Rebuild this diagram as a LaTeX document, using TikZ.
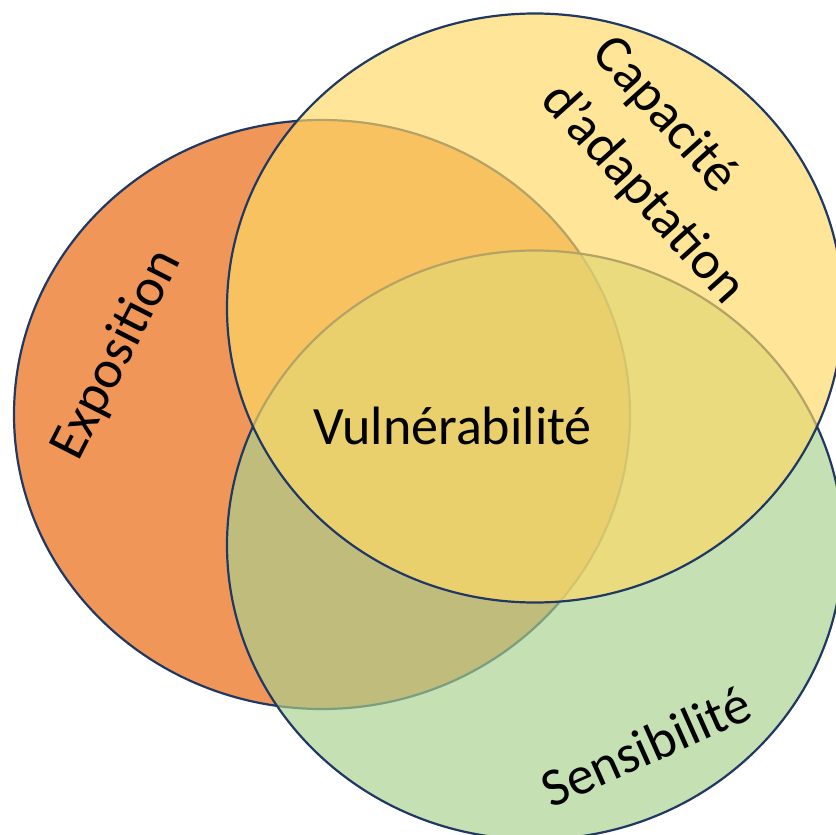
\documentclass[tikz,border=0pt]{standalone}
\usepackage{fontspec}
\setmainfont{Carlito}
\usetikzlibrary{shapes.geometric}
\definecolor{orangeF}{RGB}{239,150,88}
\definecolor{yellowF}{RGB}{255,217,102}
\definecolor{greenF}{RGB}{169,209,142}
\definecolor{navy}{RGB}{32,56,100}
\begin{document}
\begin{tikzpicture}[x=1pt,y=-1pt,
  setline/.style={line width=2.2pt, draw=navy},
  lbl/.style={font=\fontsize{54}{69}\selectfont, text=black, inner sep=0pt}]
\useasboundingbox (0,0) rectangle (836,835);
\clip (0,0) rectangle (836,835);
\fill[white] (0,0) rectangle (836,835);
% Exposition (bottom)
\draw[setline, fill=orangeF] (322,414.5) ellipse [x radius=308pt, y radius=294.5pt];
% Sensibilite
\draw[setline, fill=greenF, fill opacity=0.67] (535,545) ellipse [x radius=308pt, y radius=294.5pt];
% Capacite d'adaptation (top)
\draw[setline, fill=yellowF, fill opacity=0.67] (535,308) ellipse [x radius=308pt, y radius=294.5pt];
% labels
\node[lbl, anchor=base] (vuln) at (452.5,444) {Vulnérabilité};
\node[lbl, rotate=63] (expo) at (117,355) {Exposition};
\node[lbl, rotate=24] (sens) at (646,746) {Sensibilité};
\node[lbl, rotate=-48, align=left] (capa) at (668,171) {Capacité\\d’adaptation};
\end{tikzpicture}
\end{document}
